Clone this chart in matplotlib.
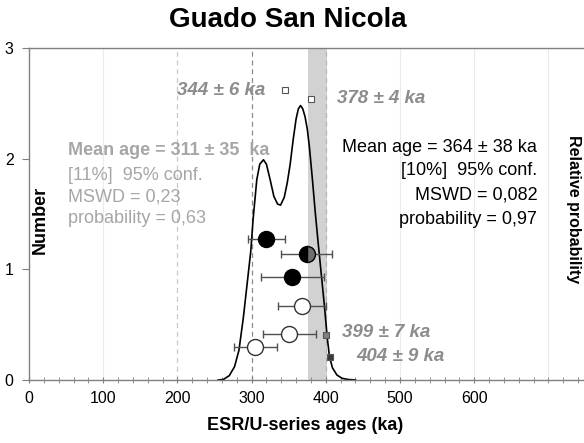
import matplotlib
matplotlib.use("Agg")
import matplotlib.pyplot as plt
import numpy as np

plt.rcParams['font.family'] = ['Liberation Sans', 'DejaVu Sans']

# probability curve (age in ka, height)
curve_x = [255, 262, 270, 277, 283, 289, 294, 299, 302, 307, 311, 316, 320, 325,
           330, 335, 339, 344, 348, 352, 356, 360, 363, 366, 369, 372, 375, 378,
           382, 386, 390, 394, 398, 402, 405, 409, 415, 422, 430, 440]
curve_y = [0.0, 0.005, 0.04, 0.12, 0.27, 0.57, 0.87, 1.17, 1.45, 1.81, 1.95, 1.99,
           1.95, 1.81, 1.66, 1.59, 1.58, 1.65, 1.78, 1.95, 2.17, 2.36, 2.45, 2.48,
           2.45, 2.38, 2.27, 2.10, 1.81, 1.50, 1.22, 0.95, 0.68, 0.38, 0.21, 0.11,
           0.045, 0.015, 0.005, 0.0]

# ESR/U-series ages
filled_age = [320, 355]
filled_err = [25, 42]
filled_y = [1.27, 0.93]
half_age = [374]
half_err = [35]
half_y = [1.14]
open_age = [368, 351, 305]
open_err = [32, 36, 29]
open_y = [0.67, 0.42, 0.30]

# single dates (small squares)
sq_age = [345, 380, 400, 406]
sq_y = [2.62, 2.54, 0.41, 0.21]
sq_face = ['white', 'white', '#808080', '#3a3a3a']
sq_labels = ['344 ± 6 ka', '378 ± 4 ka', '399 ± 7 ka', '404 ± 9 ka']

band = (376, 402)

fig = plt.figure(figsize=(5.84, 4.43), dpi=100)
ax = fig.add_axes([29/584, 1 - 380/443, 555/584, 332/443])
ax.set_xlim(0, 748)
ax.set_ylim(0, 3)

# grid-ish vertical lines
for gx in [100, 500, 600, 700]:
    ax.axvline(gx, color='#ebebeb', lw=0.8, zorder=0)
ax.axvline(200, color='#c8c8c8', lw=0.9, ls=(0, (4, 3)), zorder=0)
ax.axvline(300, color='#8c8c8c', lw=0.9, ls=(0, (4, 3)), zorder=0)
ax.axvline(400, color='#b4b4b4', lw=0.9, ls=(0, (4, 3)), zorder=1)

ax.axvspan(band[0], band[1], color='#d2d2d2', lw=0, zorder=0.5)

ax.plot(curve_x, curve_y, color='black', lw=1.2, zorder=2)

ekw = dict(ecolor='#505050', elinewidth=1, capsize=3, capthick=1, ls='none', zorder=3)
ax.errorbar(filled_age, filled_y, xerr=filled_err, marker='o', ms=11.5,
            mfc='black', mec='black', **ekw)
ax.errorbar(half_age, half_y, xerr=half_err, marker='o', ms=11.5, fillstyle='left',
            mfc='black', mfcalt='#6e6e6e', mec='black', **ekw)
ax.errorbar(open_age, open_y, xerr=open_err, marker='o', ms=11.5,
            mfc='white', mec='#333333', mew=1, **ekw)

for a, y, fc in zip(sq_age, sq_y, sq_face):
    ax.plot(a, y, marker='s', ms=5, mfc=fc, mec='#555555', mew=0.8, ls='none', zorder=4)

lab_kw = dict(color='#8c8c8c', fontsize=13.5, fontweight='bold', style='italic', va='center')
ax.text(318, 2.62, sq_labels[0], ha='right', **lab_kw)
ax.text(415, 2.54, sq_labels[1], ha='left', **lab_kw)
ax.text(422, 0.43, sq_labels[2], ha='left', **lab_kw)
ax.text(441, 0.21, sq_labels[3], ha='left', **lab_kw)

# summary blocks
gray = '#a6a6a6'
ax.text(52, 2.07, 'Mean age = 311 ± 35  ka', color=gray, fontsize=13,
        fontweight='bold', va='center', ha='left')
ax.text(52, 1.85, '[11%]  95% conf.', color=gray, fontsize=13, va='center', ha='left')
ax.text(52, 1.65, 'MSWD = 0,23', color=gray, fontsize=13, va='center', ha='left')
ax.text(52, 1.46, 'probability = 0,63', color=gray, fontsize=13, va='center', ha='left')

ax.text(685, 2.10, 'Mean age = 364 ± 38 ka', color='black', fontsize=13, va='center', ha='right')
ax.text(685, 1.89, '[10%]  95% conf.', color='black', fontsize=13, va='center', ha='right')
ax.text(685, 1.67, 'MSWD = 0,082', color='black', fontsize=13, va='center', ha='right')
ax.text(685, 1.45, 'probability = 0,97', color='black', fontsize=13, va='center', ha='right')

# axes styling
for s in ['left', 'bottom', 'top']:
    ax.spines[s].set_color('#808080')
    ax.spines[s].set_linewidth(1)
ax.spines['right'].set_visible(False)

ax.set_xticks([0, 100, 200, 300, 400, 500, 600])
ax.set_xticks(np.arange(0, 748, 20), minor=True)
ax.set_yticks([0, 1, 2, 3])
ax.tick_params(axis='x', which='both', direction='inout', length=4, color='#808080',
               labelsize=11.5, pad=6)
ax.tick_params(axis='y', direction='out', length=5, color='#808080', labelsize=11.5, pad=6)

fig.text(288/584, 1 - 20/443, 'Guado San Nicola', fontsize=20, fontweight='bold',
         ha='center', va='center')
fig.text(305/584, 1 - 426/443, 'ESR/U-series ages (ka)', fontsize=13, fontweight='bold',
         ha='center', va='center')
fig.text(40/584, 1 - 220/443, 'Number', fontsize=13, fontweight='bold', rotation=90,
         ha='center', va='center')
fig.text(573/584, 1 - 209/443, 'Relative probability', fontsize=11.5, fontweight='bold',
         rotation=-90, ha='center', va='center')

fig.savefig('out.png', dpi=100)
